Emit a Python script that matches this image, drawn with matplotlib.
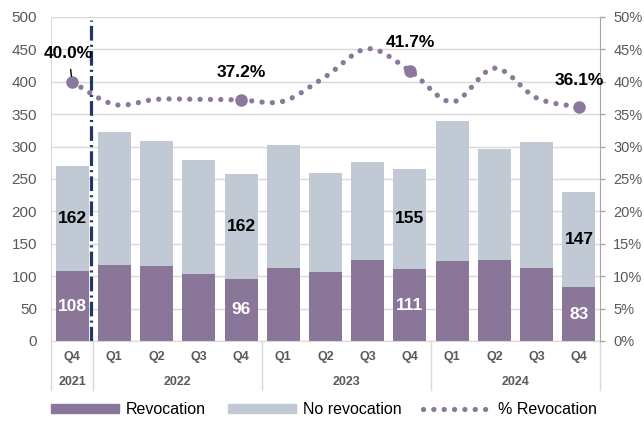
import numpy as np
import matplotlib
matplotlib.use("Agg")
import matplotlib.pyplot as plt
from matplotlib.path import Path
from matplotlib.patches import PathPatch, Patch
from matplotlib.lines import Line2D
from matplotlib.ticker import MultipleLocator, PercentFormatter
import matplotlib.transforms as mtransforms

plt.rcParams["font.family"] = ["Liberation Sans", "DejaVu Sans"]

quarters = ["Q4", "Q1", "Q2", "Q3", "Q4", "Q1", "Q2", "Q3", "Q4", "Q1", "Q2", "Q3", "Q4"]
years = ["2021", "2022", "2023", "2024"]
year_sizes = [1, 4, 4, 4]
revocation = [108, 118, 115, 104, 96, 112, 106, 125, 111, 123, 125, 113, 83]
no_revocation = [162, 205, 193, 175, 162, 191, 154, 152, 155, 216, 172, 194, 147]
pct_revocation = [0.400, 0.365, 0.373, 0.373, 0.372, 0.370, 0.408, 0.451, 0.417, 0.369, 0.421, 0.375, 0.361]
labelled = [0, 4, 8, 12]

REV = "#8A7698"
NOREV = "#C1C9D5"
DOT = "#8B789A"
NAVY = "#1F3864"
GREY = "#595959"
GRID = "#D9D9D9"
DOT_LW = 3.8
DOTSTYLE = (0, (0.01, 1.95))

fig = plt.figure(figsize=(6.44, 4.22), dpi=100)
ax = fig.add_axes([51 / 644, 81 / 422, 549 / 644, 324 / 422])
ax2 = ax.twinx()

x = np.arange(len(quarters))
W = 0.78
ax.bar(x, revocation, width=W, color=REV, zorder=2)
ax.bar(x, no_revocation, width=W, bottom=revocation, color=NOREV, zorder=2)

ax.set_xlim(-0.5, len(quarters) - 0.5)
ax.set_ylim(0, 500)
ax.yaxis.set_major_locator(MultipleLocator(50))
ax.yaxis.grid(True, color=GRID, lw=1)
ax.set_axisbelow(True)
ax.tick_params(axis="y", length=0, pad=10, labelsize=11, labelcolor=GREY)
ax.set_xticks([])
for s in ["top", "right"]:
    ax.spines[s].set_visible(False)
ax.spines["left"].set_color(GRID)
ax.spines["bottom"].set_color(GRID)

ax2.set_ylim(0, 0.5)
ax2.yaxis.set_major_locator(MultipleLocator(0.05))
ax2.yaxis.set_major_formatter(PercentFormatter(1.0, decimals=0))
ax2.tick_params(axis="y", length=3.5, width=1, color="#A6A6A6", pad=6, labelsize=10.5, labelcolor=GREY)
for s in ["top", "left", "bottom"]:
    ax2.spines[s].set_visible(False)
ax2.spines["right"].set_color("#A6A6A6")

# bar value labels on labelled quarters
for i in labelled:
    ax.text(x[i], revocation[i] / 2, str(revocation[i]), ha="center", va="center",
            color="white", fontsize=12.5, fontweight="bold", zorder=4)
    ax.text(x[i], revocation[i] + no_revocation[i] / 2, str(no_revocation[i]), ha="center",
            va="center", color="black", fontsize=12.5, fontweight="bold", zorder=4)

# smoothed dotted % line (Catmull-Rom -> cubic Bezier)
pts = np.column_stack([x, pct_revocation]).astype(float)
ext = np.vstack([pts[0], pts, pts[-1]])
verts = [tuple(pts[0])]
codes = [Path.MOVETO]
for i in range(len(pts) - 1):
    p0, p1, p2, p3 = ext[i], ext[i + 1], ext[i + 2], ext[i + 3]
    c1 = p1 + (p2 - p0) / 6
    c2 = p2 - (p3 - p1) / 6
    verts += [tuple(c1), tuple(c2), tuple(p2)]
    codes += [Path.CURVE4] * 3
curve = PathPatch(Path(verts, codes), fill=False, edgecolor=DOT, lw=DOT_LW,
                  linestyle=DOTSTYLE, capstyle="round", zorder=3)
ax2.add_patch(curve)
ax2.plot(x[labelled], np.array(pct_revocation)[labelled], "o", color=DOT, ms=8, zorder=4)

label_offsets = {0: None, 4: 0.043, 8: 0.043, 12: 0.041}
for i in labelled:
    txt = f"{pct_revocation[i] * 100:.1f}%"
    if i == 0:
        ax2.annotate(txt, xy=(x[i], pct_revocation[i]), xytext=(x[i] - 0.08, 0.4435),
                     ha="center", va="center", fontsize=12.5, fontweight="bold",
                     arrowprops=dict(arrowstyle="-", color="black", lw=1, shrinkA=4, shrinkB=4),
                     zorder=5)
    else:
        ax2.text(x[i], pct_revocation[i] + label_offsets[i], txt, ha="center", va="center",
                 fontsize=12.5, fontweight="bold", zorder=5)

# vertical divider between 2021 and 2022
ax.axvline(0.45, ymin=0, ymax=0.99, color=NAVY, lw=2.3,
           linestyle=(0, (4.6, 1.3, 0.65, 1.3)), zorder=5)

# two-level category axis
trans = mtransforms.blended_transform_factory(ax.transData, ax.transAxes)
for i, q in enumerate(quarters):
    ax.text(x[i], -0.049, q, transform=trans, ha="center", va="center",
            fontsize=9, fontweight="bold", color=GREY)
start = 0
bounds = [-0.5]
for yr, n in zip(years, year_sizes):
    ax.text(start + (n - 1) / 2, -0.127, yr, transform=trans, ha="center", va="center",
            fontsize=9, fontweight="bold", color=GREY)
    start += n
    bounds.append(start - 0.5)
for b in bounds:
    ax.plot([b, b], [0, -0.151], transform=trans, color=GRID, lw=1, clip_on=False)

handles = [
    Patch(color=REV, label="Revocation"),
    Patch(color=NOREV, label="No revocation"),
    Line2D([], [], color=DOT, lw=DOT_LW, linestyle=DOTSTYLE, dash_capstyle="round",
           label="% Revocation"),
]
fig.legend(handles=handles, loc="center left", bbox_to_anchor=(51 / 644, 12 / 422), ncol=3,
           frameon=False, fontsize=11.5, handlelength=4.25, handleheight=0.5,
           handletextpad=0.45, columnspacing=1.35, borderpad=0, borderaxespad=0)

fig.savefig("out.png", dpi=100)
